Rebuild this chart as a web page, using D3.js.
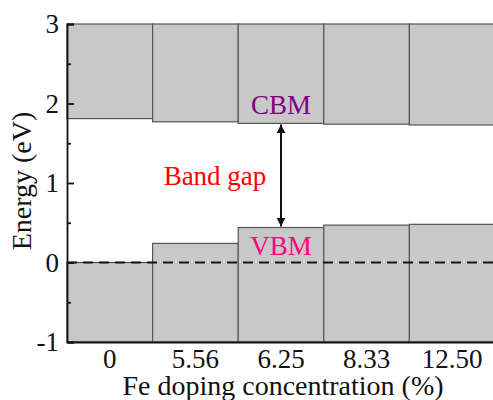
<!DOCTYPE html>
<html>
<head>
<meta charset="utf-8">
<script src="https://cdn.jsdelivr.net/npm/d3@7"></script>
<style>
  body { margin: 0; background: #fff; }
  svg text { font-family: "Liberation Serif", "DejaVu Serif", serif; }
</style>
</head>
<body>
<div id="chart"></div>
<script>
// Fe doping levels (%) and band edges (eV)
const concentrations = ["0", "5.56", "6.25", "8.33", "12.50"];
const cbmValues = [1.81, 1.77, 1.75, 1.74, 1.73];
const vbmValues = [0.00, 0.24, 0.44, 0.47, 0.48];
const yTicks = [-1, 0, 1, 2, 3];
const yMinorTicks = [-0.5, 0.5, 1.5, 2.5];

const width = 493, height = 400;
const margin = { top: 24, right: -2, bottom: 58, left: 67 };
const serif = "'Liberation Serif', 'DejaVu Serif', serif";

const svg = d3.select("#chart")
    .append("svg")
    .attr("width", width)
    .attr("height", height)
    .attr("font-family", serif);

const xScale = d3.scaleBand()
    .domain(concentrations)
    .range([margin.left, width - margin.right])
    .padding(0);

const yScale = d3.scaleLinear()
    .domain([-1, 3])
    .range([height - margin.bottom, margin.top]);

const data = concentrations.map((c, i) => ({ c, cbm: cbmValues[i], vbm: vbmValues[i] }));

// conduction band blocks
svg.selectAll(".cb")
    .data(data)
    .join("rect")
    .attr("class", "cb")
    .attr("x", d => xScale(d.c))
    .attr("y", yScale(3))
    .attr("width", xScale.bandwidth())
    .attr("height", d => yScale(d.cbm) - yScale(3))
    .attr("fill", "#c8c8c8")
    .attr("stroke", "#555")
    .attr("stroke-width", 1.2);

// valence band blocks
svg.selectAll(".vb")
    .data(data)
    .join("rect")
    .attr("class", "vb")
    .attr("x", d => xScale(d.c))
    .attr("y", d => yScale(d.vbm))
    .attr("width", xScale.bandwidth())
    .attr("height", d => yScale(-1) - yScale(d.vbm))
    .attr("fill", "#c8c8c8")
    .attr("stroke", "#555")
    .attr("stroke-width", 1.2);

// Fermi level
svg.append("line")
    .attr("x1", margin.left)
    .attr("x2", width - margin.right)
    .attr("y1", yScale(0))
    .attr("y2", yScale(0))
    .attr("stroke", "#111")
    .attr("stroke-width", 2)
    .attr("stroke-dasharray", "10,6");

// Axes
svg.append("g")
    .attr("transform", `translate(${margin.left},0)`)
    .call(d3.axisLeft(yScale).tickValues(yTicks).tickSize(-7).tickPadding(8).tickFormat(d => String(d)));

svg.append("g")
    .attr("transform", `translate(${margin.left},0)`)
    .call(d3.axisLeft(yScale).tickValues(yMinorTicks).tickSize(-4).tickFormat(""))
    .call(g => g.select(".domain").remove());

svg.append("g")
    .attr("transform", `translate(0,${height - margin.bottom})`)
    .call(d3.axisBottom(xScale).tickSize(0).tickPadding(7));

svg.selectAll("g").attr("font-family", serif);

svg.selectAll(".domain, .tick line")
    .attr("stroke", "#111")
    .attr("stroke-width", 1.8);

svg.selectAll(".tick text")
    .attr("font-family", serif)
    .style("font-size", "27px")
    .attr("fill", "#111");

// Axis labels
svg.append("text")
    .attr("x", 283)
    .attr("y", 395)
    .attr("text-anchor", "middle")
    .style("font-size", "28px")
    .attr("fill", "#111")
    .text("Fe doping concentration (%)");

svg.append("text")
    .attr("transform", "translate(31, 181) rotate(-90)")
    .attr("text-anchor", "middle")
    .style("font-size", "28px")
    .attr("fill", "#111")
    .text("Energy (eV)");

// Band gap arrow
svg.append("defs").append("marker")
    .attr("id", "head")
    .attr("viewBox", "0 0 10 10")
    .attr("refX", 10)
    .attr("refY", 5)
    .attr("markerWidth", 4.5)
    .attr("markerHeight", 4.5)
    .attr("markerUnits", "strokeWidth")
    .attr("orient", "auto-start-reverse")
    .append("path")
    .attr("d", "M0,0 L10,5 L0,10 Z")
    .attr("fill", "#111");

const gapBar = data[2];
const arrowX = xScale(gapBar.c) + xScale.bandwidth() / 2;
svg.append("line")
    .attr("x1", arrowX)
    .attr("x2", arrowX)
    .attr("y1", yScale(gapBar.cbm) + 1)
    .attr("y2", yScale(gapBar.vbm) - 1)
    .attr("stroke", "#111")
    .attr("stroke-width", 2)
    .attr("marker-start", "url(#head)")
    .attr("marker-end", "url(#head)");

svg.append("text")
    .attr("x", arrowX)
    .attr("y", yScale(gapBar.cbm) - 9)
    .attr("text-anchor", "middle")
    .style("font-size", "27px")
    .attr("fill", "#800080")
    .text("CBM");

svg.append("text")
    .attr("x", arrowX)
    .attr("y", yScale(gapBar.vbm) + 27)
    .attr("text-anchor", "middle")
    .style("font-size", "27px")
    .attr("fill", "#ff0080")
    .text("VBM");

svg.append("text")
    .attr("x", 215)
    .attr("y", 185)
    .attr("text-anchor", "middle")
    .style("font-size", "27px")
    .attr("fill", "#ff0000")
    .text("Band gap");
</script>
</body>
</html>
